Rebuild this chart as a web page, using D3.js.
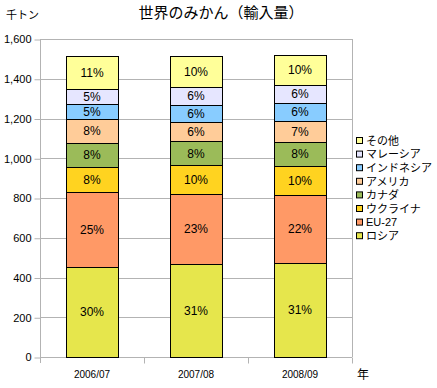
<!DOCTYPE html>
<html>
<head>
<meta charset="utf-8">
<script src="https://cdn.jsdelivr.net/npm/d3@7"></script>
<style>
    body { margin: 0; background: #fff; }
    text { font-family: "Liberation Sans", Arial, "Noto Sans CJK JP", sans-serif; fill: #000; }
</style>
</head>
<body>
<div id="chart"></div>
<script>
// Data (thousand tons)
var years = ["2006/07", "2007/08", "2008/09"];
var countries = ["ロシア", "EU-27", "ウクライナ", "カナダ", "アメリカ", "インドネシア", "マレーシア", "その他"];
var russia    = [455, 470, 474];
var eu27      = [375, 349, 340];
var ukraine   = [126, 146, 146];
var canada    = [120, 121, 123];
var america   = [121, 95, 105];
var indonesia = [76, 89, 89];
var malaysia  = [75, 87, 92];
var others    = [164, 156, 152];
var yTicks = [0, 200, 400, 600, 800, 1000, 1200, 1400, 1600];

var colors = ["#e6e64c", "#ff9966", "#ffd320", "#9bbb59", "#ffcc99", "#88ccff", "#e6e6ff", "#ffff99"];

var series = [russia, eu27, ukraine, canada, america, indonesia, malaysia, others];

var table = years.map(function (y, i) {
    var row = { year: y };
    countries.forEach(function (c, j) { row[c] = series[j][i]; });
    row.total = d3.sum(series, s => s[i]);
    return row;
});

// SVG
var svgWidth = 437;
var svgHeight = 388;
var margin = { top: 39, right: 85, bottom: 31, left: 40 };
var width = svgWidth - margin.left - margin.right;
var height = svgHeight - margin.top - margin.bottom;

var svg = d3.select("#chart")
    .append("svg")
    .attr("width", svgWidth)
    .attr("height", svgHeight);

var g = svg.append("g")
    .attr("transform", `translate(${margin.left}, ${margin.top})`);

var x = d3.scaleBand().domain(years).range([0, width]).paddingInner(0.5).paddingOuter(0.25);
var y = d3.scaleLinear().domain([0, 1600]).range([height, 0]);

// Gridlines
g.append("g")
    .selectAll("line")
    .data(yTicks.slice(1))
    .enter()
    .append("line")
    .attr("x1", 0).attr("x2", width)
    .attr("y1", d => Math.round(y(d)) + 0.5).attr("y2", d => Math.round(y(d)) + 0.5)
    .attr("stroke", "#b3b3b3");

// right border
g.append("line")
    .attr("x1", width + 0.5).attr("x2", width + 0.5)
    .attr("y1", 0).attr("y2", height)
    .attr("stroke", "#b3b3b3");

// Y axis
var axisY = g.append("g")
    .attr("transform", "translate(0.5,0)")
    .call(d3.axisLeft(y).tickValues(yTicks).tickSize(6).tickPadding(3).tickFormat(d3.format(",")));
axisY.selectAll("line").attr("stroke", "#b3b3b3").attr("transform", "translate(0,0.5)");
axisY.select(".domain").attr("stroke", "#b3b3b3").attr("d", `M0,0V${height + 6}`);
axisY.selectAll("text").style("font-size", "11px").attr("dy", "0.35em");

// X axis
var bandStep = width / years.length;
var axisX = g.append("g")
    .attr("transform", `translate(0, ${height + 0.5})`);
axisX.append("line")
    .attr("x1", 0).attr("x2", width)
    .attr("stroke", "#b3b3b3");
axisX.selectAll(".tk")
    .data(years)
    .enter()
    .append("line")
    .attr("x1", (d, i) => Math.round(bandStep * (i + 1)) + 0.5)
    .attr("x2", (d, i) => Math.round(bandStep * (i + 1)) + 0.5)
    .attr("y1", 0).attr("y2", 6)
    .attr("stroke", "#b3b3b3");
axisX.selectAll("text")
    .data(years)
    .enter()
    .append("text")
    .attr("x", d => x(d) + x.bandwidth() / 2)
    .attr("y", 20)
    .attr("text-anchor", "middle")
    .style("font-size", "10px")
    .text(d => d);

// Stacked bars
var stack = d3.stack().keys(countries)(table);

var layers = g.selectAll(".layer")
    .data(stack)
    .enter()
    .append("g")
    .attr("fill", (d, i) => colors[i]);

layers.selectAll("rect")
    .data(d => d)
    .enter()
    .append("rect")
    .attr("x", d => Math.round(x(d.data.year)) + 0.5)
    .attr("y", d => Math.round(y(d[1])) + 0.5)
    .attr("width", Math.round(x.bandwidth()))
    .attr("height", d => Math.round(y(d[0])) - Math.round(y(d[1])))
    .attr("stroke", "#000")
    .attr("stroke-width", 1);

layers.selectAll("text")
    .data(d => d)
    .enter()
    .append("text")
    .attr("x", d => x(d.data.year) + x.bandwidth() / 2)
    .attr("y", d => (y(d[0]) + y(d[1])) / 2)
    .attr("dy", "0.36em")
    .attr("text-anchor", "middle")
    .style("font-size", "12px")
    .text(d => Math.round((d[1] - d[0]) / d.data.total * 100) + "%");

// Legend
var legend = svg.append("g")
    .attr("transform", "translate(356, 137)");

var items = legend.selectAll("g")
    .data(countries.slice().reverse())
    .enter()
    .append("g")
    .attr("transform", (d, i) => `translate(0, ${i * 13.6})`);

items.append("rect")
    .attr("x", 0.5).attr("y", 0.5)
    .attr("width", 6).attr("height", 6)
    .attr("fill", d => colors[countries.indexOf(d)])
    .attr("stroke", "#000");

items.append("text")
    .attr("x", 10)
    .attr("y", 4)
    .attr("dy", "0.35em")
    .style("font-size", "11px")
    .text(d => d);

// Titles
svg.append("text")
    .attr("x", 221)
    .attr("y", 18)
    .attr("text-anchor", "middle")
    .style("font-size", "15px")
    .text("世界のみかん（輸入量）");

svg.append("text")
    .attr("x", 6)
    .attr("y", 19)
    .style("font-size", "11px")
    .text("千トン");

svg.append("text")
    .attr("x", 357)
    .attr("y", 379)
    .style("font-size", "12px")
    .text("年");
</script>
</body>
</html>
